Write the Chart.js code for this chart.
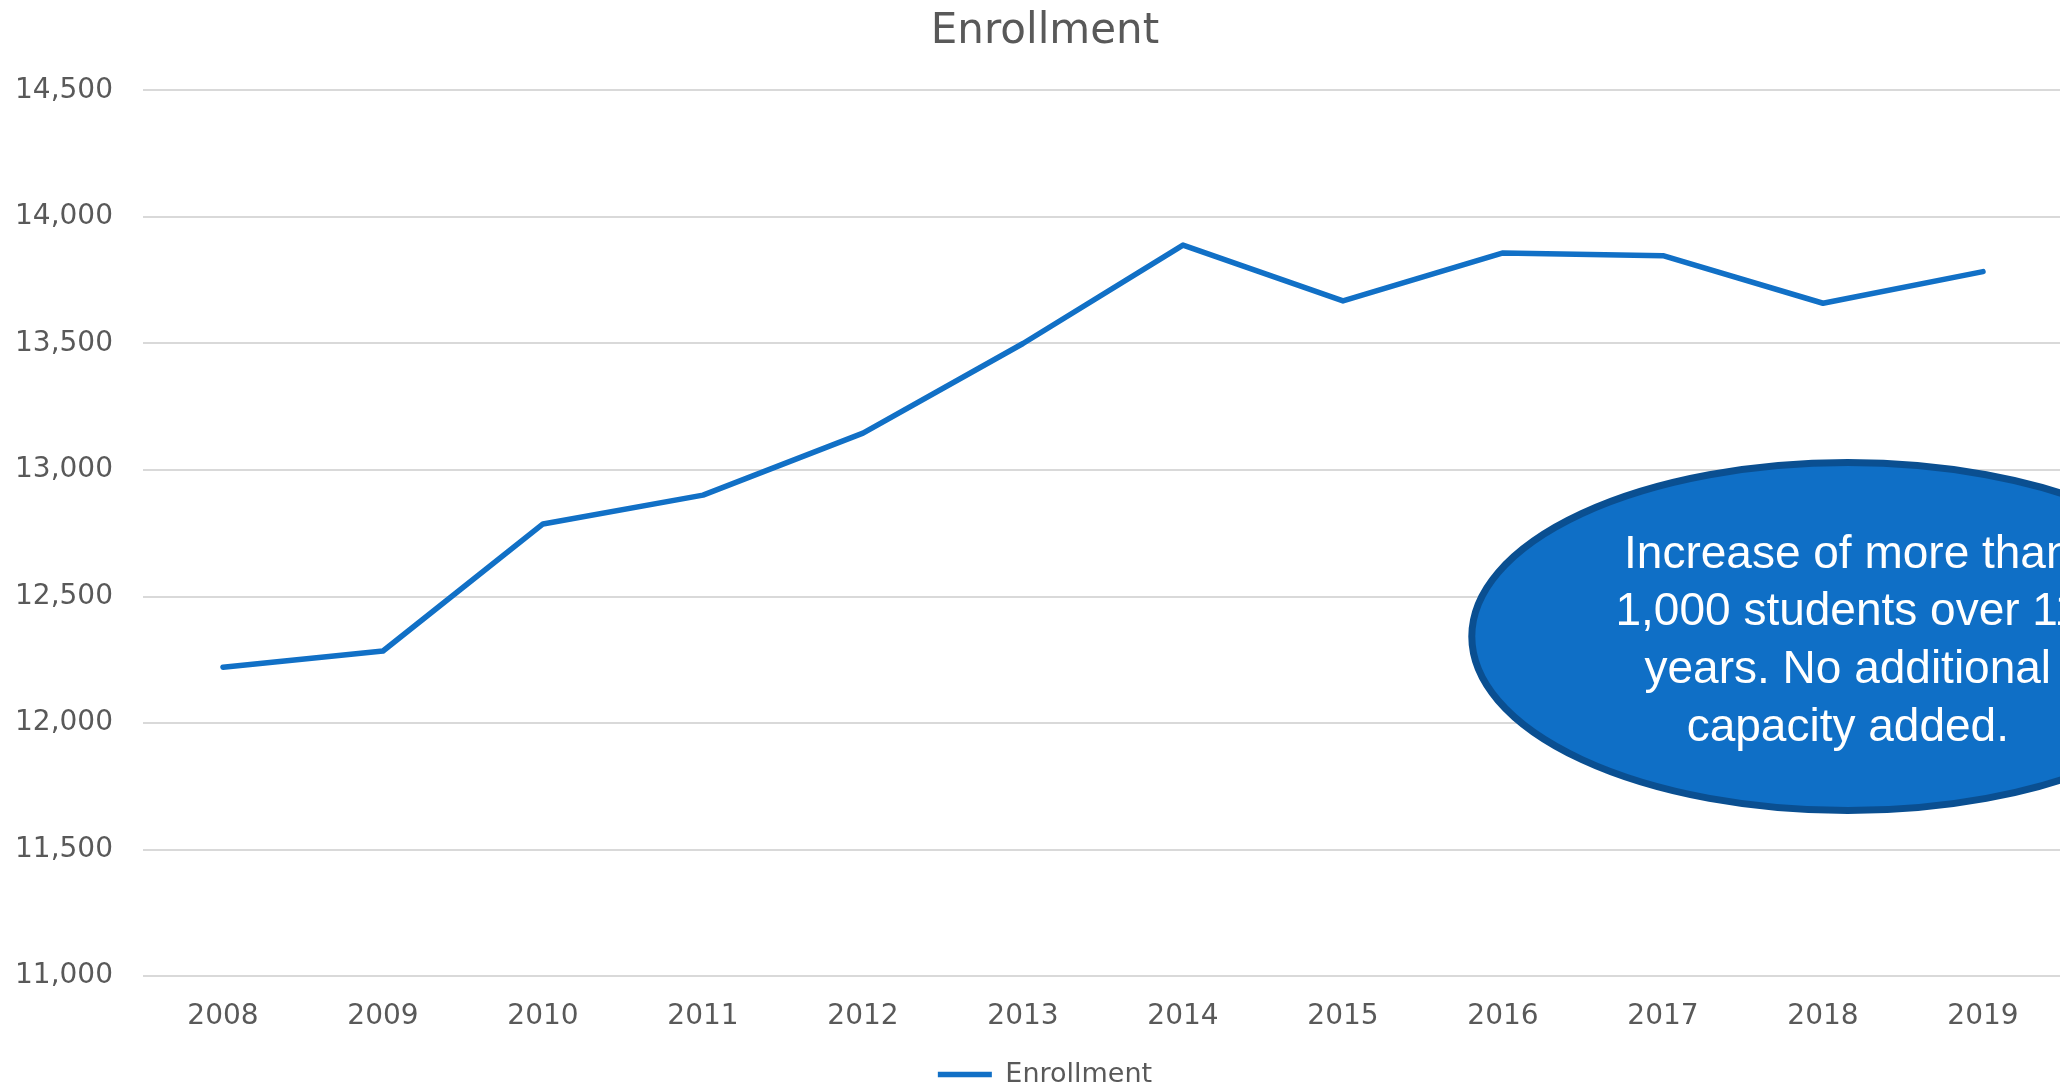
<!DOCTYPE html>
<html>
<head>
<meta charset="utf-8">
<script src="https://cdn.jsdelivr.net/npm/chart.js@4/dist/chart.umd.min.js"></script>
<style>
  html, body { margin: 0; padding: 0; background: #fff; overflow: hidden; }
  #wrap { width: 2090px; height: 1086px; position: relative; }
</style>
</head>
<body>
<div id="wrap"><canvas id="chart"></canvas></div>
<script>
const years = ['2008', '2009', '2010', '2011', '2012', '2013', '2014', '2015', '2016', '2017', '2018', '2019'];
const enrollment = [12221, 12285, 12787, 12901, 13146, 13500, 13889, 13668, 13858, 13847, 13659, 13784];
const yTicks = { min: 11000, max: 14500, step: 500 };
const calloutLines = ['Increase of more than', '1,000 students over 11', 'years. No additional', 'capacity added.'];

const blue = '#1170C6';
const gray = '#595959';
const axisFont = 'DejaVu Sans';

// callout bubble, anchored on the scales (category index / value)
const callout = {
    xIndex: 10.155,
    yValue: 12342,
    rx: 376,
    ry: 174,
    fill: '#0F6FC6',
    stroke: '#0A4F91',
    lineGap: 57.7
};

const calloutPlugin = {
    id: 'callout',
    afterDraw(chart) {
        const { ctx, scales } = chart;
        const i0 = Math.floor(callout.xIndex);
        const x0 = scales.x.getPixelForValue(i0);
        const x1 = scales.x.getPixelForValue(i0 + 1);
        const cx = x0 + (x1 - x0) * (callout.xIndex - i0);
        const cy = scales.y.getPixelForValue(callout.yValue);
        ctx.save();
        ctx.beginPath();
        ctx.ellipse(cx, cy, callout.rx, callout.ry, 0, 0, Math.PI * 2);
        ctx.fillStyle = callout.fill;
        ctx.fill();
        ctx.lineWidth = 7;
        ctx.strokeStyle = callout.stroke;
        ctx.stroke();
        ctx.fillStyle = '#ffffff';
        ctx.font = '46px "Liberation Sans", Arial, sans-serif';
        ctx.textAlign = 'center';
        ctx.textBaseline = 'middle';
        calloutLines.forEach((line, i) => {
            ctx.fillText(line, cx, cy + 5 + (i - 1.5) * callout.lineGap);
        });
        ctx.restore();
    }
};

new Chart(document.getElementById('chart'), {
    type: 'line',
    data: {
        labels: years,
        datasets: [{
            label: 'Enrollment',
            data: enrollment,
            borderColor: blue,
            backgroundColor: blue,
            borderWidth: 5.5,
            borderCapStyle: 'round',
            borderJoinStyle: 'round',
            pointRadius: 0,
            tension: 0,
            fill: false
        }]
    },
    options: {
        responsive: true,
        maintainAspectRatio: false,
        animation: false,
        devicePixelRatio: 1,
        layout: { padding: { bottom: -12 } },
        plugins: {
            title: {
                display: true,
                text: 'Enrollment',
                color: gray,
                font: { family: axisFont, size: 42, weight: 'normal' },
                padding: { top: 7, bottom: 33 }
            },
            legend: {
                position: 'bottom',
                labels: {
                    color: gray,
                    font: { family: axisFont, size: 27 },
                    usePointStyle: true,
                    pointStyle: 'line',
                    pointStyleWidth: 54,
                    padding: 0
                }
            },
            tooltip: { enabled: false }
        },
        scales: {
            x: {
                offset: true,
                grid: { display: false, drawTicks: false },
                border: { display: false },
                ticks: { color: gray, font: { family: axisFont, size: 28 }, padding: 24 },
                title: { display: true, text: ' ', color: 'rgba(0,0,0,0)', font: { size: 1 }, padding: { top: 0, bottom: 2 } }
            },
            y: {
                min: yTicks.min,
                max: yTicks.max,
                grid: { color: '#D9D9D9', lineWidth: 2, drawTicks: false },
                border: { display: false },
                ticks: {
                    stepSize: yTicks.step,
                    color: gray,
                    font: { family: axisFont, size: 28 },
                    padding: 30,
                    callback: v => v.toLocaleString('en-US')
                },
                afterFit: s => { s.width = 143; }
            },
            yRight: {
                position: 'right',
                grid: { display: false },
                border: { display: false },
                ticks: { display: false },
                afterFit: s => { s.width = 27; }
            }
        }
    },
    plugins: [calloutPlugin]
});
</script>
</body>
</html>
